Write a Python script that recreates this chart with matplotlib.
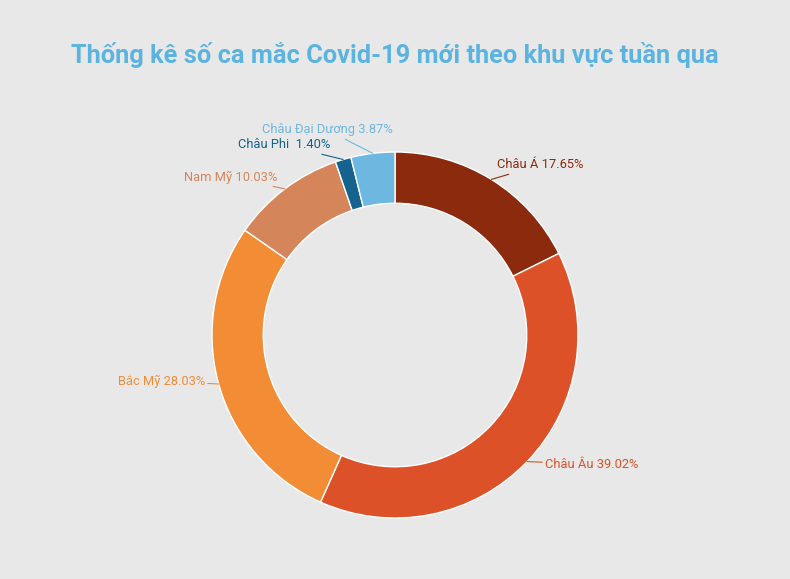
import matplotlib.pyplot as plt
import numpy as np

labels = ["Châu Á", "Châu Âu", "Bắc Mỹ", "Nam Mỹ", "Châu Phi", "Châu Đại Dương"]
values = [17.65, 39.02, 28.03, 10.03, 1.40, 3.87]
colors = ["#8B2A0C", "#DC5128", "#F28C35", "#D4865A", "#15628E", "#6DB8E0"]
label_fmt = ["{} {:.2f}%", "{} {:.2f}%", "{} {:.2f}%", "{} {:.2f}%", "{}  {:.2f}%", "{} {:.2f}%"]

W, H = 790, 579
cx, cy, R = 395, 335, 183
fig = plt.figure(figsize=(W/100, H/100), dpi=100, facecolor="#E8E8E8")
ax = fig.add_axes([(cx-R)/W, (H-cy-R)/H, 2*R/W, 2*R/H])
ax.set_facecolor("#E8E8E8")
wedges, _ = ax.pie(values, colors=colors, startangle=90, counterclock=False,
                   radius=1, wedgeprops=dict(width=0.28, edgecolor="white", linewidth=1))
ax.set_xlim(-1, 1); ax.set_ylim(-1, 1); ax.set_aspect("equal"); ax.axis("off")

def d(px, py):
    return ((px-cx)/R, (cy-py)/R)

text_pos = [(497, 165, "left"), (545, 464, "left"), (205, 381, "right"),
            (277, 177, "right"), (330, 145, "right"), (327, 130, "center")]
for w, lab, val, c, fmt, (px, py, ha) in zip(wedges, labels, values, colors, label_fmt, text_pos):
    ang = np.deg2rad((w.theta1 + w.theta2) / 2)
    xy = (np.cos(ang), np.sin(ang))
    ax.annotate(fmt.format(lab, val), xy=xy, xytext=d(px, py), ha=ha, va="center",
                color=c, fontsize=9.3, family="Roboto",
                arrowprops=dict(arrowstyle="-", color=c, lw=0.8,
                                connectionstyle="arc3,rad=0", shrinkA=0, shrinkB=0),
                annotation_clip=False)

fig.text(0.5, 1-55/H, "Thống kê số ca mắc Covid-19 mới theo khu vực tuần qua",
         ha="center", va="center", color="#5BB3E0", fontsize=18.3, fontweight="bold",
         family="Roboto")
fig.savefig("out.png", dpi=100, facecolor=fig.get_facecolor())
